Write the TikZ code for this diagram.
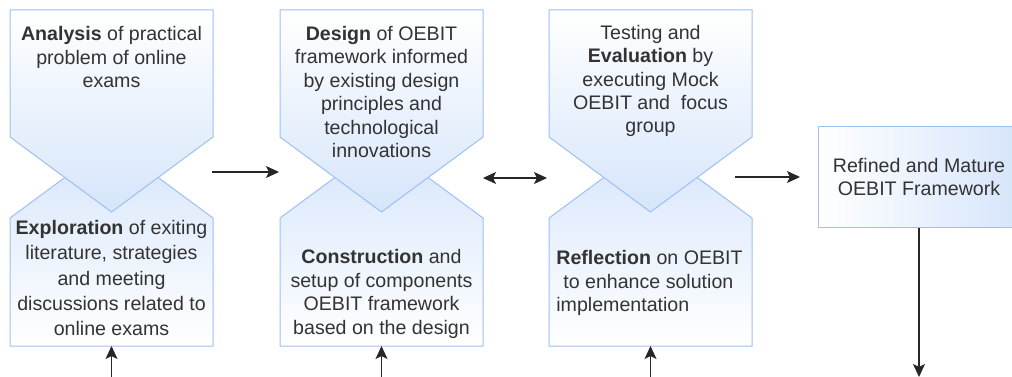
\documentclass[tikz,border=0pt]{standalone}
\usepackage{fontspec}
\setmainfont{Liberation Sans}
\usetikzlibrary{arrows.meta}

\definecolor{stepline}{HTML}{9CC0F4}
\definecolor{stepfill}{HTML}{D6E5FB}
\definecolor{labelgray}{HTML}{333333}

\begin{document}
\begin{tikzpicture}[
        x=1pt, y=-1pt,
        every node/.style={font=\fontsize{19.6}{23.4}\selectfont, text=labelgray, inner sep=0pt},
        upper/.style={draw=stepline, line width=1pt, top color=white, bottom color=stepfill},
        lower/.style={draw=stepline, line width=1pt, top color=stepfill, bottom color=white},
        tip/.tip={Stealth[length=13pt,width=12pt,inset=3pt]},
        flow/.style={-tip, line width=1.1pt, black!85},
        twoway/.style={tip-tip, line width=1.1pt, black!85}
    ]
    \useasboundingbox (0,0) rectangle (1012,377);

    % Analysis / Exploration
    \begin{scope}
        \draw[lower]
            (10,218) -- (111.5,143) -- (213,218) -- (213,346) -- (10,346) -- cycle;
        \draw[upper]
            (10,10) -- (213,10) -- (213,137) -- (111.5,212) -- (10,137) -- cycle;

        \node[align=center] (ana) at (111.5,57)
            {\textbf{Analysis} of practical\\problem of online\\exams};
        \node[align=center, font=\fontsize{19.6}{25.2}\selectfont] (expl) at (111.5,278)
            {\textbf{Exploration} of exiting\\literature, strategies\\and meeting\\discussions related to\\online exams};

        \coordinate (ana-e) at (212,172);
        \coordinate (expl-s) at (111.5,346);
        \coordinate (expl-in) at (111.5,377);
    \end{scope}


    % Design / Construction
    \begin{scope}[xshift=270]
        \draw[lower]
            (10,218) -- (111.5,143) -- (213,218) -- (213,346) -- (10,346) -- cycle;
        \draw[upper]
            (10,10) -- (213,10) -- (213,137) -- (111.5,212) -- (10,137) -- cycle;

        \node[align=center] (des) at (111.5,92)
            {\textbf{Design} of OEBIT\\framework informed\\by existing design\\principles and\\technological\\innovations};
        \node[align=center] (cons) at (111.5,294)
            {\textbf{Construction} and\\setup of components\\OEBIT framework\\based on the design};

        \coordinate (des-w) at (9,172);
        \coordinate (des-e) at (213,178);
        \coordinate (cons-s) at (111.5,346);
        \coordinate (cons-in) at (111.5,377);
    \end{scope}


    % Testing / Reflection
    \begin{scope}[xshift=539]
        \draw[lower]
            (10,218) -- (111.5,143) -- (213,218) -- (213,346) -- (10,346) -- cycle;
        \draw[upper]
            (10,10) -- (213,10) -- (213,137) -- (111.5,212) -- (10,137) -- cycle;

        \node[align=center] (test) at (111.5,81)
            {Testing and\\\textbf{Evaluation} by\\executing Mock\\OEBIT and\ \ focus\\group};
        \node[align=left] (refl) at (110.5,283)
            {\textbf{Reflection} on OEBIT\\\hspace*{7pt}to enhance solution\\implementation};

        \coordinate (test-w) at (8,178);
        \coordinate (test-e) at (196,177);
        \coordinate (refl-s) at (111.5,346);
        \coordinate (refl-in) at (111.5,377);
    \end{scope}


    % Outcome
    \node[draw=stepline, line width=1pt, left color=white, right color=stepfill,
          minimum width=202, minimum height=100, align=center] (mature) at (919,177)
        {Refined and Mature\\OEBIT Framework};
    \coordinate (mature-w) at (800,177);
    \coordinate (mature-out) at (919,377);

    % Flow between the phases
    \draw[flow] (ana-e) -- (des-w);
    \draw[twoway] (des-e) -- (test-w);
    \draw[flow] (test-e) -- (mature-w);
    \draw[flow] (mature) -- (mature-out);

    \draw[flow] (expl-in) -- (expl-s);
    \draw[flow] (cons-in) -- (cons-s);
    \draw[flow] (refl-in) -- (refl-s);

\end{tikzpicture}
\end{document}
